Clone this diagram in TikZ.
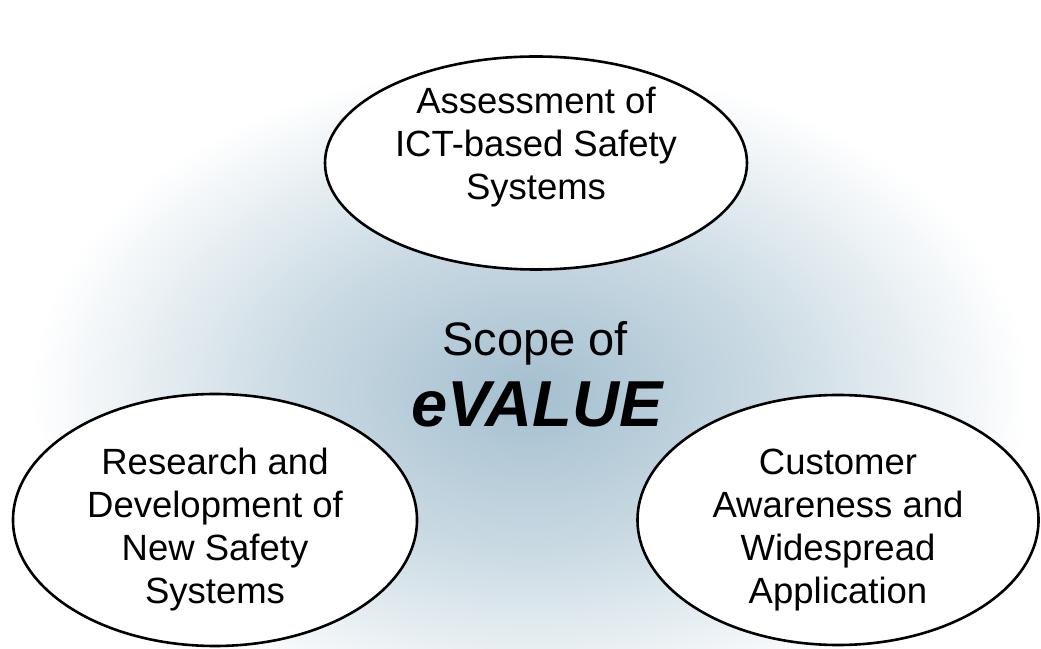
\documentclass[tikz,border=0pt]{standalone}
\usepackage{fontspec}
\setmainfont{Liberation Sans}
\usetikzlibrary{shapes.geometric}
\definecolor{glow}{RGB}{164,191,207}
\pgfdeclareradialshading{glowshade}{\pgfpointorigin}{color(0bp)=(glow); color(12bp)=(glow!58!white); color(25bp)=(white); color(50bp)=(white)}
\tikzset{
    topic/.style={ellipse, draw=black, line width=2.6pt, fill=white, inner sep=0pt},
    topictext/.style={align=center, inner sep=0pt, font=\fontsize{36.5}{43}\selectfont},
}
\begin{document}
\begin{tikzpicture}[x=1pt,y=1pt]
        \useasboundingbox (0,0) rectangle (1041,648);

        % background glow
        \shade[shading=glowshade] (530,255) ellipse (500 and 330);

        \node[topic, minimum width=422, minimum height=213] (assess) at (536,485) {};
        \node[topic, minimum width=404, minimum height=252] (research) at (215,128) {};
        \node[topic, minimum width=401, minimum height=250] (customer) at (838,128) {};

        \node[topictext] (assesstext) at ([yshift=16]assess.center) {Assessment of\\ICT-based Safety\\Systems};
        \node[topictext] (researchtext) at ([yshift=-10]research.center) {Research and\\Development of\\New Safety\\Systems};
        \node[topictext] (customertext) at ([yshift=-10]customer.center) {Customer\\Awareness and\\Widespread\\Application};

        \node[font=\fontsize{47}{50}\selectfont] (scope) at (535,305) {Scope of};
        \node[font=\fontsize{65}{68}\selectfont\bfseries\itshape] (evalue) at (537,244) {eVALUE};

    \end{tikzpicture}
\end{document}
